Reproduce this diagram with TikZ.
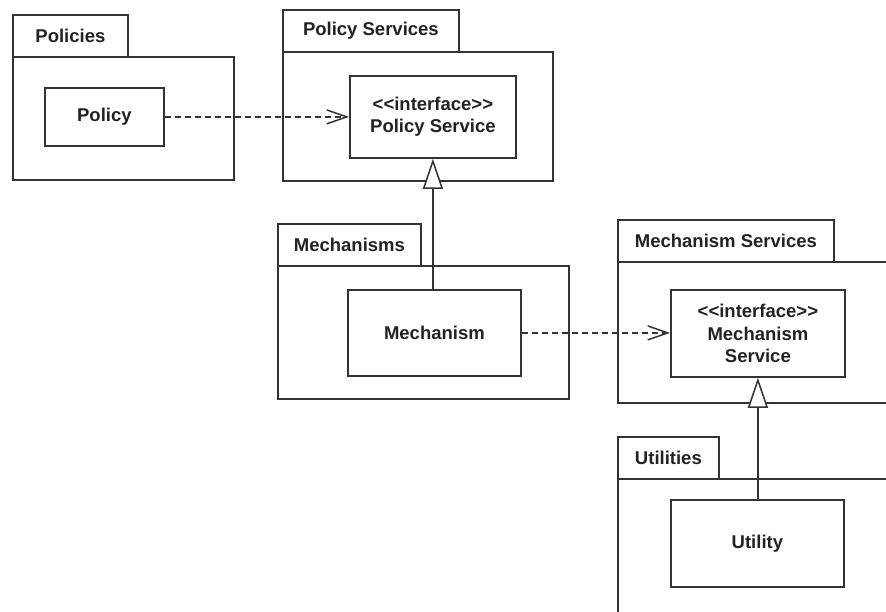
\documentclass[tikz,border=0pt]{standalone}
\usepackage{fontspec}
\setmainfont{Liberation Sans}
\usetikzlibrary{arrows.meta}
\definecolor{ln}{HTML}{333333}
\definecolor{tx}{HTML}{222222}
\newcommand\stereo{<\kern0pt<interface>\kern0pt>}
\begin{document}
\begin{tikzpicture}[x=1pt,y=-1pt,
  box/.style={draw=ln, line width=1.8pt, fill=white, rectangle, inner sep=0pt,
    anchor=north west, font=\fontsize{18.5}{22.5}\selectfont\bfseries, text=tx, align=center},
  dep/.style={draw=ln, line width=1.5pt, dash pattern=on 6pt off 4pt,
    -{Straight Barb[length=20pt,width=14pt,line width=1.5pt]}},
  gen/.style={draw=ln, line width=1.5pt,
    -{Triangle[open,length=30pt,width=20pt,fill=white,line width=1.5pt]}}]
\useasboundingbox (0,0) rectangle (886,612);
% Policies
\node[box, minimum width=221pt, minimum height=123pt] (polbody) at (12,56) {};
\node[box, minimum width=115pt, minimum height=42pt] (poltab) at (12,14) {Policies};
\node[box, minimum width=119pt, minimum height=58pt] (policy) at (44,87) {Policy};
% Policy Services
\node[box, minimum width=270pt, minimum height=129pt] (psbody) at (282,51) {};
\node[box, minimum width=176pt, minimum height=42pt] (pstab) at (282,9) {Policy Services};
\node[box, minimum width=166pt, minimum height=82pt] (polsvc) at (349,75) {\stereo\\Policy Service};
% Mechanisms
\node[box, minimum width=291pt, minimum height=133pt] (mbody) at (277,265) {};
\node[box, minimum width=143pt, minimum height=42pt] (mtab) at (277,223) {Mechanisms};
\node[box, minimum width=173pt, minimum height=86pt] (mech) at (347,289) {Mechanism};
% Mechanism Services
\node[box, minimum width=290pt, minimum height=141pt] (msbody) at (617,261) {};
\node[box, minimum width=216pt, minimum height=42pt] (mstab) at (617,219) {Mechanism Services};
\node[box, minimum width=174pt, minimum height=87pt] (mechsvc) at (670,289) {\stereo\\Mechanism\\Service};
% Utilities
\node[box, minimum width=290pt, minimum height=150pt] (ubody) at (617,478) {};
\node[box, minimum width=101pt, minimum height=42pt] (utab) at (617,436) {Utilities};
\node[box, minimum width=173pt, minimum height=87pt] (util) at (670,499) {Utility};
% connectors
\draw[dep] (policy.east) -- (polsvc.west |- policy.east);
\draw[dep] (mech.east) -- (mechsvc.west |- mech.east);
\draw[gen] (polsvc.south |- mech.north) -- (polsvc.south);
\draw[gen] (mechsvc.south |- util.north) -- (mechsvc.south);
\end{tikzpicture}
\end{document}
